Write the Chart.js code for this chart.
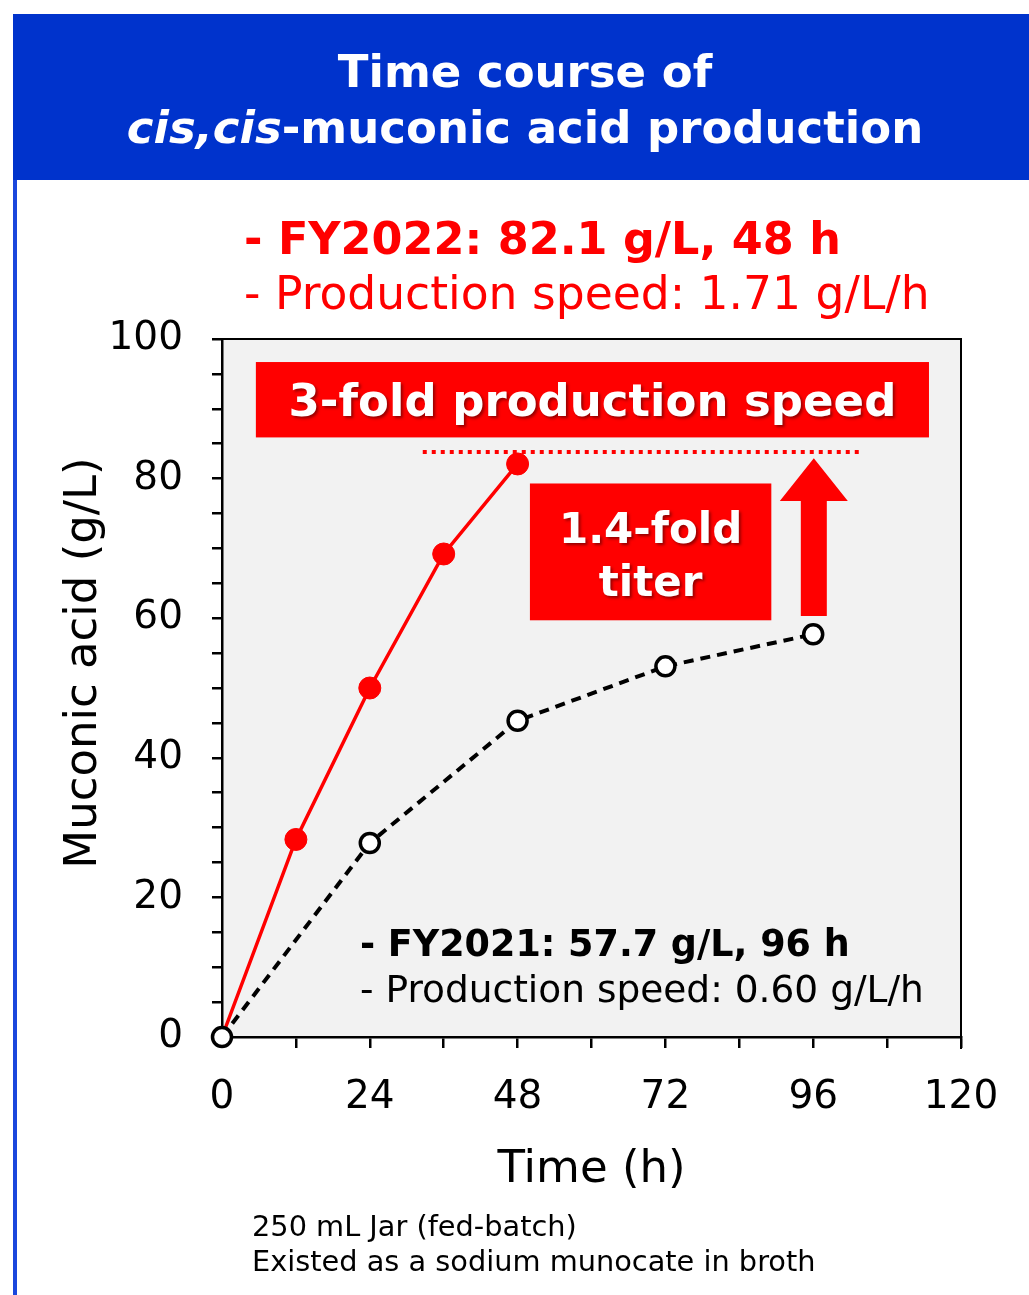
<!DOCTYPE html>
<html>
<head>
<meta charset="utf-8">
<script src="https://cdn.jsdelivr.net/npm/chart.js@4"></script>
<style>
  html, body { margin: 0; padding: 0; background: #fff; }
  canvas { display: block; }
</style>
</head>
<body>
<canvas id="muconicChart" width="1029" height="1295"></canvas>
<script>
// Fed-batch time course, muconic acid titer (g/L) vs time (h)
const hours2022 = [0, 12, 24, 36, 48];
const titer2022 = [0, 28.3, 50.0, 69.2, 82.1];
const hours2021 = [0, 24, 48, 72, 96];
const titer2021 = [0, 27.8, 45.3, 53.1, 57.7];

const yTickLabels = [0, 20, 40, 60, 80, 100];
const xTickLabels = [0, 24, 48, 72, 96, 120];

const FONT = '"DejaVu Sans", Verdana, sans-serif';
const RED = "#ff0000";

const toPoints = (xs, ys) => xs.map((x, i) => ({ x: x, y: ys[i] }));

// header band, plot background and the red callouts
const decorations = {
  id: "decorations",
  beforeDraw(chart) {
    const { ctx, chartArea: a } = chart;
    ctx.save();
    ctx.fillStyle = "#ffffff";
    ctx.fillRect(0, 0, chart.width, chart.height);
    ctx.fillStyle = "#0033cc";
    ctx.fillRect(13, 14, chart.width - 13, 166);
    ctx.fillStyle = "#1a47dd";
    ctx.fillRect(13, 180, 4, chart.height - 180);
    ctx.fillStyle = "#f2f2f2";
    ctx.fillRect(a.left, a.top, a.right - a.left, a.bottom - a.top);
    ctx.restore();
  },
  beforeDatasetsDraw(chart) {
    const { ctx, chartArea: a } = chart;
    const xs = chart.scales.x;
    const ys = chart.scales.y;
    ctx.save();

    // top and right edges of the frame
    ctx.strokeStyle = "#000";
    ctx.lineWidth = 2;
    ctx.beginPath();
    ctx.moveTo(a.left, a.top);
    ctx.lineTo(a.right, a.top);
    ctx.lineTo(a.right, a.bottom + 12);
    ctx.stroke();

    // dotted target level
    ctx.strokeStyle = RED;
    ctx.lineWidth = 4;
    ctx.setLineDash([4, 5]);
    ctx.beginPath();
    ctx.moveTo(xs.getPixelForValue(32.6), ys.getPixelForValue(83.8));
    ctx.lineTo(xs.getPixelForValue(103.8), ys.getPixelForValue(83.8));
    ctx.stroke();
    ctx.setLineDash([]);

    // up arrow at 96 h
    const ax = xs.getPixelForValue(96.1);
    const tip = ys.getPixelForValue(82.9);
    const base = ys.getPixelForValue(76.8);
    const tail = ys.getPixelForValue(60.3);
    ctx.fillStyle = RED;
    ctx.beginPath();
    ctx.moveTo(ax, tip);
    ctx.lineTo(ax + 34, base);
    ctx.lineTo(ax + 13, base);
    ctx.lineTo(ax + 13, tail);
    ctx.lineTo(ax - 13, tail);
    ctx.lineTo(ax - 13, base);
    ctx.lineTo(ax - 34, base);
    ctx.closePath();
    ctx.fill();

    // callout boxes
    const box = (x0, y0, x1, y1) => {
      const l = xs.getPixelForValue(x0), r = xs.getPixelForValue(x1);
      const t = ys.getPixelForValue(y0), b = ys.getPixelForValue(y1);
      ctx.fillStyle = RED;
      ctx.fillRect(l, t, r - l, b - t);
      return { cx: (l + r) / 2, cy: (t + b) / 2 };
    };
    const speedBox = box(5.5, 96.7, 114.8, 85.9);
    const titerBox = box(50.0, 79.3, 89.2, 59.7);

    ctx.fillStyle = "#ffffff";
    ctx.shadowColor = "rgba(90, 0, 0, 0.65)";
    ctx.shadowOffsetX = 2;
    ctx.shadowOffsetY = 2;
    ctx.shadowBlur = 3;
    ctx.textAlign = "center";
    ctx.textBaseline = "middle";
    ctx.font = "bold 45px " + FONT;
    ctx.fillText("3-fold production speed", speedBox.cx, speedBox.cy + 5);
    ctx.font = "bold 42px " + FONT;
    ctx.fillText("1.4-fold", titerBox.cx, titerBox.cy - 20);
    ctx.fillText("titer", titerBox.cx, titerBox.cy + 33);
    ctx.restore();
  },
  afterDraw(chart) {
    const { ctx } = chart;
    ctx.save();
    ctx.textBaseline = "middle";

    // header title
    ctx.fillStyle = "#ffffff";
    ctx.textAlign = "center";
    ctx.font = "bold 45px " + FONT;
    ctx.fillText("Time course of", 525, 75);
    const italicPart = "cis,cis";
    const restPart = "-muconic acid production";
    ctx.font = "italic bold 45px " + FONT;
    const w1 = ctx.measureText(italicPart).width;
    ctx.font = "bold 45px " + FONT;
    const w2 = ctx.measureText(restPart).width;
    const start = 525 - (w1 + w2) / 2;
    ctx.textAlign = "left";
    ctx.font = "italic bold 45px " + FONT;
    ctx.fillText(italicPart, start, 131);
    ctx.font = "bold 45px " + FONT;
    ctx.fillText(restPart, start + w1, 131);

    // FY2022 summary
    ctx.fillStyle = RED;
    ctx.font = "bold 44.5px " + FONT;
    ctx.fillText("- FY2022: 82.1 g/L, 48 h", 244, 242);
    ctx.font = "45.6px " + FONT;
    ctx.fillText("- Production speed: 1.71 g/L/h", 244, 297);

    // FY2021 summary
    ctx.fillStyle = "#000000";
    ctx.font = "bold 36.5px " + FONT;
    ctx.fillText("- FY2021: 57.7 g/L, 96 h", 360, 947);
    ctx.font = "37.5px " + FONT;
    ctx.fillText("- Production speed: 0.60 g/L/h", 360, 992);

    // y axis title
    ctx.save();
    ctx.translate(84, 663);
    ctx.rotate(-Math.PI / 2);
    ctx.textAlign = "center";
    ctx.font = "45px " + FONT;
    ctx.fillText("Muconic acid (g/L)", 0, 0);
    ctx.restore();

    // footnotes
    ctx.textAlign = "left";
    ctx.font = "28.8px " + FONT;
    ctx.fillText("250 mL Jar (fed-batch)", 252, 1229);
    ctx.fillText("Existed as a sodium munocate in broth", 252, 1264);
    ctx.restore();
  },
};

const ctx = document.getElementById("muconicChart").getContext("2d");
const muconicChart = new Chart(ctx, {
  type: "line",
  data: {
    datasets: [
      {
        label: "FY2021",
        data: toPoints(hours2021, titer2021),
        borderColor: "#000000",
        borderWidth: 4,
        borderDash: [10, 7],
        pointRadius: 9.5,
        pointBorderWidth: 3.5,
        pointBackgroundColor: "#ffffff",
        pointBorderColor: "#000000",
        tension: 0,
        clip: false,
        order: 0,
      },
      {
        label: "FY2022",
        data: toPoints(hours2022, titer2022),
        borderColor: RED,
        borderWidth: 3.5,
        pointRadius: [8, 11, 11, 11, 11],
        pointBorderWidth: 1,
        pointBackgroundColor: RED,
        pointBorderColor: RED,
        tension: 0,
        clip: false,
        order: 1,
      },
    ],
  },
  options: {
    responsive: false,
    animation: false,
    devicePixelRatio: 1,
    layout: {
      padding: { left: 0, top: 339, right: 68, bottom: 0 },
    },
    plugins: {
      legend: { display: false },
      tooltip: { enabled: false },
    },
    scales: {
      x: {
        type: "linear",
        min: 0,
        max: 120,
        afterFit: (scale) => {
          scale.height = 258;
        },
        border: { display: true, color: "#000", width: 2.5 },
        grid: {
          drawOnChartArea: false,
          drawTicks: true,
          tickLength: 11,
          color: "#000",
          lineWidth: 2.5,
        },
        ticks: {
          stepSize: 12,
          padding: 26,
          color: "#000",
          font: { family: FONT, size: 39, lineHeight: 1.2 },
          maxRotation: 0,
          autoSkip: false,
          callback: (v) => (xTickLabels.includes(v) ? String(v) : ""),
        },
        title: {
          display: true,
          text: "Time (h)",
          color: "#000",
          font: { family: FONT, size: 45, lineHeight: 1.2 },
          padding: { top: 0, bottom: 98 },
        },
      },
      y: {
        min: 0,
        max: 100,
        afterFit: (scale) => {
          scale.width = 222;
        },
        border: { display: true, color: "#000", width: 2.5 },
        grid: {
          drawOnChartArea: false,
          drawTicks: true,
          tickLength: 10,
          color: "#000",
          lineWidth: 2.5,
        },
        ticks: {
          stepSize: 5,
          padding: 29,
          color: "#000",
          font: { family: FONT, size: 39, lineHeight: 1.2 },
          autoSkip: false,
          callback: (v) => (yTickLabels.includes(v) ? String(v) : ""),
        },
      },
    },
  },
  plugins: [decorations],
});
</script>
</body>
</html>
